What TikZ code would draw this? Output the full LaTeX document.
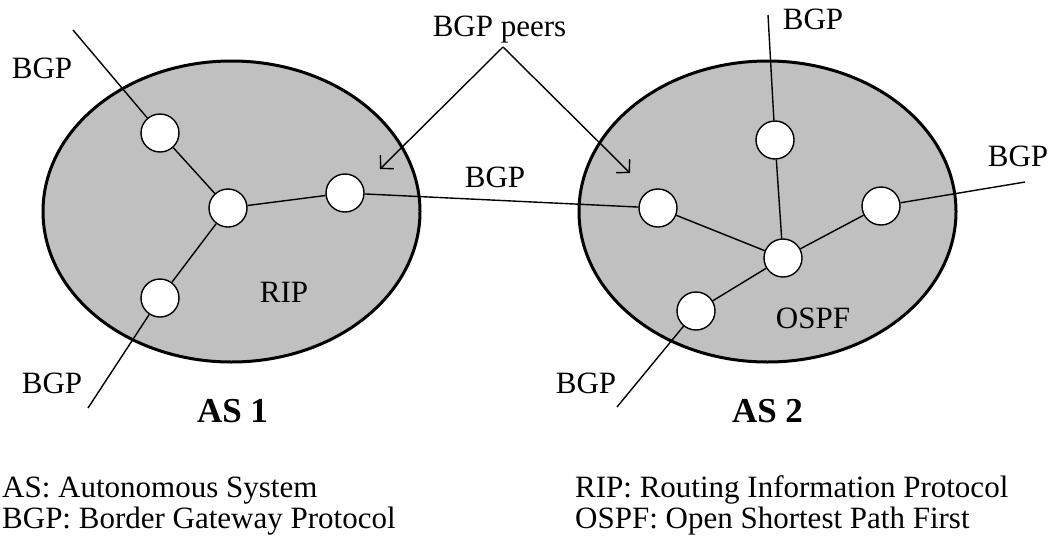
\documentclass[tikz,border=0pt]{standalone}
\usepackage{fontspec}
\setmainfont{Liberation Serif}
\usetikzlibrary{shapes.geometric,arrows.meta}
\definecolor{asgray}{HTML}{C0C0C0}
\tikzset{
  asbox/.style={ellipse, draw, line width=3pt, fill=asgray, minimum width=377pt, minimum height=301pt, inner sep=0pt},
  router/.style={circle, draw, line width=1.4pt, fill=white, minimum size=38pt, inner sep=0pt},
  link/.style={line width=1.4pt},
  peerarrow/.style={line width=1.4pt, -{Straight Barb[length=9pt,width=19pt]}},
  lbl/.style={font=\fontsize{31pt}{31pt}\selectfont, inner sep=0pt},
  aslbl/.style={font=\fontsize{35pt}{35pt}\selectfont\bfseries, inner sep=0pt},
}
\begin{document}
\begin{tikzpicture}[x=1pt,y=-1pt]
\useasboundingbox (0,0) rectangle (1052,544);
% autonomous systems
\node[asbox] (as1) at (231.5,211.5) {};
\node[asbox] (as2) at (767.5,211.5) {};
% AS1 routers
\node[router] (n1) at (160,133) {};
\node[router] (n2) at (228,208) {};
\node[router] (n3) at (345,193) {};
\node[router] (n4) at (160,298) {};
% AS2 routers
\node[router] (m1) at (775,140) {};
\node[router] (m2) at (658,208) {};
\node[router] (m3) at (783,258) {};
\node[router] (m4) at (881,206) {};
\node[router] (m5) at (696,311) {};
% external ends
\coordinate (e1) at (73,30);
\coordinate (e4) at (88,408);
\coordinate (f1) at (768,15);
\coordinate (f4) at (1025,182);
\coordinate (f5) at (617,407);
% links
\draw[link] (e1) -- (n1);
\draw[link] (n1) -- (n2);
\draw[link] (n2) -- (n3);
\draw[link] (n2) -- (n4);
\draw[link] (n4) -- (e4);
\draw[link] (n3) -- (m2);
\draw[link] (f1) -- (m1);
\draw[link] (m1) -- (m3);
\draw[link] (m2) -- (m3);
\draw[link] (m3) -- (m4);
\draw[link] (m4) -- (f4);
\draw[link] (m3) -- (m5);
\draw[link] (m5) -- (f5);
% BGP peers
\node[lbl, anchor=base] (peers) at (499.5,36) {BGP peers};
\coordinate (apex) at (503,47);
\coordinate (pa) at (380,169);
\coordinate (pb) at (630,173);
\draw[peerarrow] (apex) -- (pa);
\draw[peerarrow] (apex) -- (pb);
% labels
\node[lbl] (b1) at (42,68) {BGP};
\node[lbl] (b2) at (52,383) {BGP};
\node[lbl] (b3) at (495,177) {BGP};
\node[lbl] (b4) at (813,19) {BGP};
\node[lbl] (b5) at (1018,156) {BGP};
\node[lbl] (b6) at (586,383) {BGP};
\node[lbl] (rip) at (284,292) {RIP};
\node[lbl] (ospf) at (813,318) {OSPF};
\node[aslbl] (t1) at (232.5,411) {AS 1};
\node[aslbl] (t2) at (767.5,411) {AS 2};
% legend
\node[lbl, anchor=base west] (l1) at (2,497) {AS: Autonomous System};
\node[lbl, anchor=base west] (l2) at (2,528) {BGP: Border Gateway Protocol};
\node[lbl, anchor=base west] (l3) at (575,497) {RIP: Routing Information Protocol};
\node[lbl, anchor=base west] (l4) at (575,528) {OSPF: Open Shortest Path First};
\end{tikzpicture}
\end{document}
